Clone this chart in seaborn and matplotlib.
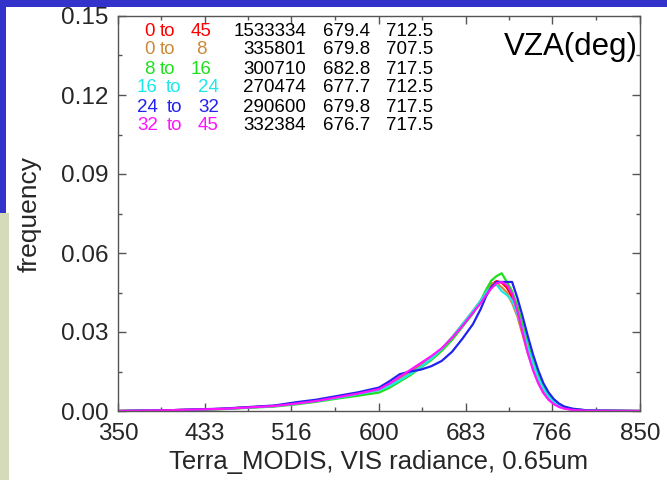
import numpy as np
import pandas as pd
import matplotlib
matplotlib.use("Agg")
import matplotlib.pyplot as plt
from matplotlib.patches import Rectangle
import seaborn as sns

# ---------------- data ----------------
radiance = [350, 400, 450, 500, 520, 540, 560, 580, 600, 610, 620, 630, 640, 650,
            660, 670, 680, 690, 697.5, 702.5, 707.5, 712.5, 717.5, 722.5, 727.5,
            732.5, 737.5, 742.5, 747.5, 752.5, 757.5, 762.5, 767.5, 772.5, 777.5,
            785, 800, 850]

freq_0_45 = [0.0, 0.0003, 0.0008, 0.0019, 0.0028, 0.0038, 0.0051, 0.0065, 0.0081, 0.0099,
             0.0122, 0.0147, 0.0172, 0.0200, 0.0233, 0.0276, 0.0324, 0.0375, 0.0416,
             0.0450, 0.0480, 0.0493, 0.0488, 0.0468, 0.0432, 0.0375, 0.0302, 0.0228,
             0.0165, 0.0115, 0.0077, 0.0049, 0.0031, 0.0019, 0.0011, 0.0005, 0.0001, 0.0]
freq_0_8 = [0.0, 0.0003, 0.0008, 0.0019, 0.0028, 0.0038, 0.0051, 0.0065, 0.0080, 0.0099,
            0.0121, 0.0146, 0.017, 0.020, 0.0235, 0.028, 0.033, 0.038, 0.042,
            0.045, 0.0485, 0.0485, 0.047, 0.045, 0.041, 0.036, 0.029, 0.022,
            0.0165, 0.0115, 0.0078, 0.005, 0.0032, 0.002, 0.0012, 0.0006, 0.0002, 0.0]
freq_8_16 = [0.0, 0.0002, 0.0007, 0.0017, 0.0025, 0.0035, 0.0047, 0.0058, 0.0070, 0.0088,
             0.0112, 0.0136, 0.0165, 0.0193, 0.0228, 0.027, 0.032, 0.037, 0.042,
             0.046, 0.0495, 0.0512, 0.0523, 0.049, 0.0455, 0.040, 0.033, 0.0255,
             0.019, 0.0135, 0.009, 0.006, 0.0038, 0.0024, 0.0015, 0.0008, 0.0002, 0.0]
freq_16_24 = [0.0, 0.0003, 0.0008, 0.0019, 0.0028, 0.0038, 0.0050, 0.0064, 0.0079, 0.0095,
              0.0117, 0.0141, 0.0167, 0.0198, 0.0236, 0.028, 0.033, 0.038, 0.042,
              0.045, 0.047, 0.048, 0.0455, 0.044, 0.042, 0.037, 0.031, 0.024,
              0.018, 0.0125, 0.0085, 0.0055, 0.0035, 0.0022, 0.0014, 0.0007, 0.0002, 0.0]
freq_24_32 = [0.0, 0.0003, 0.0009, 0.0021, 0.0033, 0.0043, 0.0057, 0.0071, 0.0089, 0.0113,
              0.0140, 0.0150, 0.0157, 0.0170, 0.0190, 0.0225, 0.0275, 0.0330, 0.0388,
              0.0435, 0.047, 0.049, 0.049, 0.049, 0.049, 0.043, 0.036, 0.0285,
              0.0215, 0.0155, 0.0105, 0.007, 0.0045, 0.0028, 0.0017, 0.0009, 0.0002, 0.0]
freq_32_45 = [0.0, 0.0003, 0.0008, 0.0019, 0.0028, 0.0038, 0.0052, 0.0066, 0.0083, 0.0104,
              0.0130, 0.0156, 0.0182, 0.0208, 0.0238, 0.0278, 0.0323, 0.0373, 0.0410,
              0.044, 0.0465, 0.0485, 0.049, 0.0478, 0.0445, 0.038, 0.030, 0.022,
              0.0155, 0.0105, 0.0068, 0.0042, 0.0026, 0.0015, 0.0009, 0.0004, 0.0001, 0.0]

range_from = ["0", "0", "8", "16", "24", "32"]
range_to = ["45", "8", "16", "24", "32", "45"]
counts = ["1533334", "335801", "300710", "270474", "290600", "332384"]
means = ["679.4", "679.8", "682.8", "677.7", "679.8", "676.7"]
modes = ["712.5", "707.5", "717.5", "712.5", "717.5", "717.5"]
series_names = ["0 to 45", "0 to 8", "8 to 16", "16 to 24", "24 to 32", "32 to 45"]
series_values = [freq_0_45, freq_0_8, freq_8_16, freq_16_24, freq_24_32, freq_32_45]
colors = ["#ff0000", "#cc8a3c", "#1ee01e", "#1ee8e8", "#2222ee", "#ff14ff"]

x_ticks = [350, 433, 516, 600, 683, 766, 850]
y_ticks = [0.00, 0.03, 0.06, 0.09, 0.12, 0.15]

# ---------------- build long table ----------------
frames = []
for name, vals in zip(series_names, series_values):
    frames.append(pd.DataFrame({"radiance": radiance, "frequency": vals, "VZA": name}))
df = pd.concat(frames, ignore_index=True)

sns.set_style("ticks")
plt.rcParams["font.family"] = ["Liberation Sans", "DejaVu Sans"]

fig = plt.figure(figsize=(6.67, 4.8), dpi=100, facecolor="white")
W, H = 667.0, 480.0
# slide background strips
fig.patches.append(Rectangle((0, 1 - 7 / H), 1, 7 / H, transform=fig.transFigure,
                             facecolor="#3333cc", edgecolor="none", zorder=0))
fig.patches.append(Rectangle((0, 1 - 213 / H), 6 / W, 213 / H, transform=fig.transFigure,
                             facecolor="#3333cc", edgecolor="none", zorder=0))
fig.patches.append(Rectangle((0, 0), 8.5 / W, 1 - 213 / H, transform=fig.transFigure,
                             facecolor="#d5dbb8", edgecolor="none", zorder=0))

ax = fig.add_axes([118 / W, 1 - 411 / H, (640 - 118) / W, (411 - 16) / H])
ax.set_facecolor("white")

sns.lineplot(data=df, x="radiance", y="frequency", hue="VZA", hue_order=series_names,
             palette=dict(zip(series_names, colors)), linewidth=1.6, legend=False,
             sort=False, ax=ax)

ax.set_xlim(350, 850)
ax.set_ylim(0, 0.15)
ax.set_xticks(x_ticks)
ax.set_xticklabels([str(t) for t in x_ticks])
ax.set_yticks(y_ticks)
ax.set_yticklabels([f"{t:.2f}" for t in y_ticks])
minor_x = [(a + b) / 2 for a, b in zip(x_ticks[:-1], x_ticks[1:])]
minor_y = [(a + b) / 2 for a, b in zip(y_ticks[:-1], y_ticks[1:])]
ax.set_xticks(minor_x, minor=True)
ax.set_yticks(minor_y, minor=True)
ax.tick_params(which="both", direction="in", top=True, right=True, color="#555555",
               width=1.0)
ax.tick_params(which="major", length=6, labelsize=17.5)
ax.tick_params(axis="x", which="major", pad=9)
ax.tick_params(axis="y", which="major", pad=7)
ax.tick_params(which="minor", length=3)
for s in ax.spines.values():
    s.set_color("#555555")
    s.set_linewidth(1.0)

ax.set_xlabel("Terra_MODIS, VIS radiance, 0.65um", fontsize=18.5, labelpad=3)
ax.set_ylabel("frequency", fontsize=19, labelpad=14)

# table of ranges and statistics (figure pixel coordinates)
def fx(px):
    return px / W

def fy(py):
    return 1 - py / H

row_y = [31, 50, 69, 88, 107, 126]
from_right = [155, 155, 155, 158, 158, 158]
to_center = [168, 168, 168, 173, 175, 175]
to_right = [211.5, 207, 211.5, 219, 219, 219]
for i in range(len(series_names)):
    y = fy(row_y[i])
    kw = dict(transform=fig.transFigure, fontsize=13.5, va="center")
    fig.text(fx(from_right[i]), y, range_from[i], ha="right", color=colors[i], **kw)
    fig.text(fx(to_center[i]), y, "to", ha="center", color=colors[i], **kw)
    fig.text(fx(to_right[i]), y, range_to[i], ha="right", color=colors[i], **kw)
    fig.text(fx(306), y, counts[i], ha="right", color="black", **kw)
    fig.text(fx(370), y, means[i], ha="right", color="black", **kw)
    fig.text(fx(433), y, modes[i], ha="right", color="black", **kw)

fig.text(fx(638), fy(55), "VZA(deg)", ha="right", va="baseline", fontsize=22.5,
         color="black", transform=fig.transFigure)

fig.savefig("out.png", dpi=100, facecolor=fig.get_facecolor())
